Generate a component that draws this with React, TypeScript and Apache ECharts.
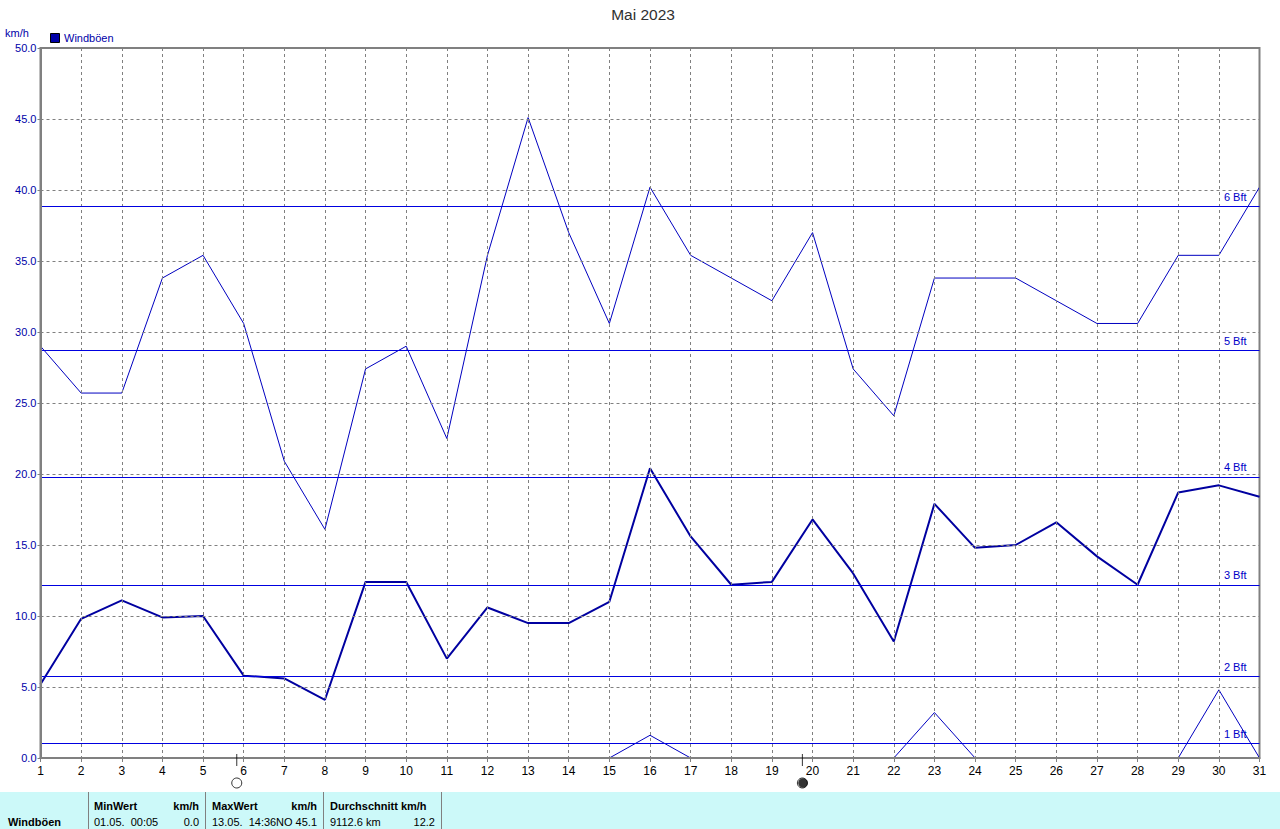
import React, { useEffect, useRef } from "react";
import * as echarts from "echarts";

const days = Array.from({ length: 31 }, (_, i) => i + 1);
const gusts = [29.0, 25.7, 25.7, 33.8, 35.4, 30.6, 20.9, 16.1, 27.4, 29.0, 22.5, 35.4, 45.1, 37.0, 30.6, 40.2, 35.4, 33.8, 32.2, 37.0, 27.4, 24.1, 33.8, 33.8, 33.8, 32.2, 30.6, 30.6, 35.4, 35.4, 40.2];
const average = [5.2, 9.8, 11.1, 9.9, 10.0, 5.8, 5.6, 4.1, 12.4, 12.4, 7.0, 10.6, 9.5, 9.5, 11.0, 20.4, 15.6, 12.2, 12.4, 16.8, 13.0, 8.2, 17.9, 14.8, 15.0, 16.6, 14.2, 12.2, 18.7, 19.2, 18.4];
const lows = [0, 0, 0, 0, 0, 0, 0, 0, 0, 0, 0, 0, 0, 0, 0, 1.6, 0, 0, 0, 0, 0, 0, 3.2, 0, 0, 0, 0, 0, 0, 4.8, 0];
const beaufort = [
  { label: "1 Bft", value: 1.05 },
  { label: "2 Bft", value: 5.75 },
  { label: "3 Bft", value: 12.2 },
  { label: "4 Bft", value: 19.8 },
  { label: "5 Bft", value: 28.7 },
  { label: "6 Bft", value: 38.87 },
];
const fullMoonDay = 5.83;
const newMoonDay = 19.75;

const blue = "#0000a8";
const gridColor = "#808080";
const font = "'Liberation Sans', Arial, sans-serif";
const pair = (v: number[]) => v.map((y, i) => [days[i], y]);

const footerSeparators = [88, 205, 323, 441];
const footerTexts: [string, number, number, boolean, string?][] = [
  ["Windböen", 8, 822, true],
  ["MinWert", 94, 806, true],
  ["km/h", 199, 806, true, "right"],
  ["01.05.  00:05", 94, 822, false],
  ["0.0", 199, 822, false, "right"],
  ["MaxWert", 212, 806, true],
  ["km/h", 317, 806, true, "right"],
  ["13.05.  14:36", 212, 822, false],
  ["NO 45.1", 317, 822, false, "right"],
  ["Durchschnitt km/h", 330, 806, true],
  ["9112.6 km", 330, 822, false],
  ["12.2", 435, 822, false, "right"],
];

export default function App() {
  const ref = useRef<HTMLDivElement>(null);
  useEffect(() => {
    document.body.style.margin = "0";
    const chart = echarts.init(ref.current!, undefined, { renderer: "svg" });
    chart.setOption({
      animation: false,
      backgroundColor: "#ffffff",
      title: {
        text: "Mai 2023",
        left: 638,
        top: 1,
        textAlign: "center",
        textStyle: { color: "#303030", fontSize: 15.5, fontWeight: "normal", fontFamily: font },
      },
      grid: { show: true, left: 40.5, right: 20.5, top: 48, bottom: 71, borderColor: "#808080", borderWidth: 2, backgroundColor: "transparent" },
      xAxis: {
        type: "value",
        min: 1,
        max: 31,
        interval: 1,
        z: 5,
        axisLine: { onZero: false, lineStyle: { color: "#808080", width: 2 } },
        axisTick: { show: true, length: 4, lineStyle: { color: "#808080" } },
        axisLabel: { color: "#000000", fontSize: 12, fontFamily: font, margin: 7 },
        splitLine: { show: true, lineStyle: { color: gridColor, type: [3, 3], width: 1 } },
      },
      yAxis: {
        type: "value",
        min: 0,
        max: 50,
        interval: 5,
        z: 5,
        axisLine: { show: true, lineStyle: { color: "#808080", width: 2 } },
        axisTick: { show: true, length: 3, lineStyle: { color: "#808080" } },
        axisLabel: { color: "#0000a8", fontSize: 11, fontFamily: font, margin: 4, formatter: (v: number) => v.toFixed(1) },
        splitLine: { show: true, lineStyle: { color: gridColor, type: [3, 3], width: 1 } },
      },
      series: [
        {
          name: "Böen",
          type: "line",
          data: pair(gusts),
          symbol: "none",
          z: 3,
          lineStyle: { color: "#0000c0", width: 1 },
          markLine: {
            silent: true,
            symbol: "none",
            animation: false,
            lineStyle: { color: "#0000e0", width: 1, type: "solid" },
            data: beaufort.map((b) => ({
              yAxis: b.value,
              label: {
                show: true,
                position: "insideEndTop",
                formatter: b.label,
                color: "#0000c8",
                fontSize: 11,
                fontFamily: font,
                distance: [13, 4],
              },
            })),
          },
        },
        { name: "Mittel", type: "line", data: pair(average), symbol: "none", z: 3, lineStyle: { color: "#0000a0", width: 2 } },
        { name: "Min", type: "line", data: pair(lows), symbol: "none", z: 3, lineStyle: { color: "#0000c0", width: 1 } },
        {
          name: "Vollmond",
          type: "scatter",
          clip: false,
          silent: true,
          z: 6,
          data: [[fullMoonDay, 0], [newMoonDay, 0]],
          symbol: "circle",
          symbolSize: 10,
          symbolOffset: [0, 25],
          itemStyle: { color: "#ffffff", borderColor: "#000000", borderWidth: 1 },
        },
        {
          name: "Neumond",
          type: "scatter",
          clip: false,
          silent: true,
          z: 7,
          data: [[newMoonDay, 0]],
          symbol: "circle",
          symbolSize: 9.5,
          symbolOffset: [0.6, 25],
          itemStyle: { color: "#000000" },
        },
        {
          name: "Mondmarke",
          type: "scatter",
          clip: false,
          silent: true,
          z: 6,
          data: [[fullMoonDay, 0], [newMoonDay, 0]],
          symbol: "rect",
          symbolSize: [1, 12],
          symbolOffset: [0, 2],
          itemStyle: { color: "#000000" },
        },
      ],
      graphic: [
        { type: "text", x: 5, y: 27, silent: true, style: { text: "km/h", fill: blue, font: `11px ${font}` } },
        { type: "rect", x: 50.5, y: 33.5, shape: { width: 9, height: 9 }, silent: true, style: { fill: blue, stroke: "#000000", lineWidth: 1 } },
        { type: "text", x: 64, y: 32, silent: true, style: { text: "Windböen", fill: blue, font: `11px ${font}` } },
        { type: "rect", x: 0, y: 792, shape: { width: 1280, height: 37 }, silent: true, style: { fill: "#ccf9f9" } },
        ...footerSeparators.map((x) => ({
          type: "rect", x, y: 792, shape: { width: 1, height: 37 }, silent: true, style: { fill: "#808080" },
        })),
        ...footerTexts.map(([text, x, y, bold, align]) => ({
          type: "text",
          x,
          y,
          silent: true,
          style: {
            text,
            fill: "#000000",
            align: align ?? "left",
            verticalAlign: "middle",
            font: `${bold ? "bold " : ""}11px ${font}`,
          },
        })),
      ],
    });
    return () => chart.dispose();
  }, []);
  return <div ref={ref} style={{ width: 1280, height: 829 }} />;
}
